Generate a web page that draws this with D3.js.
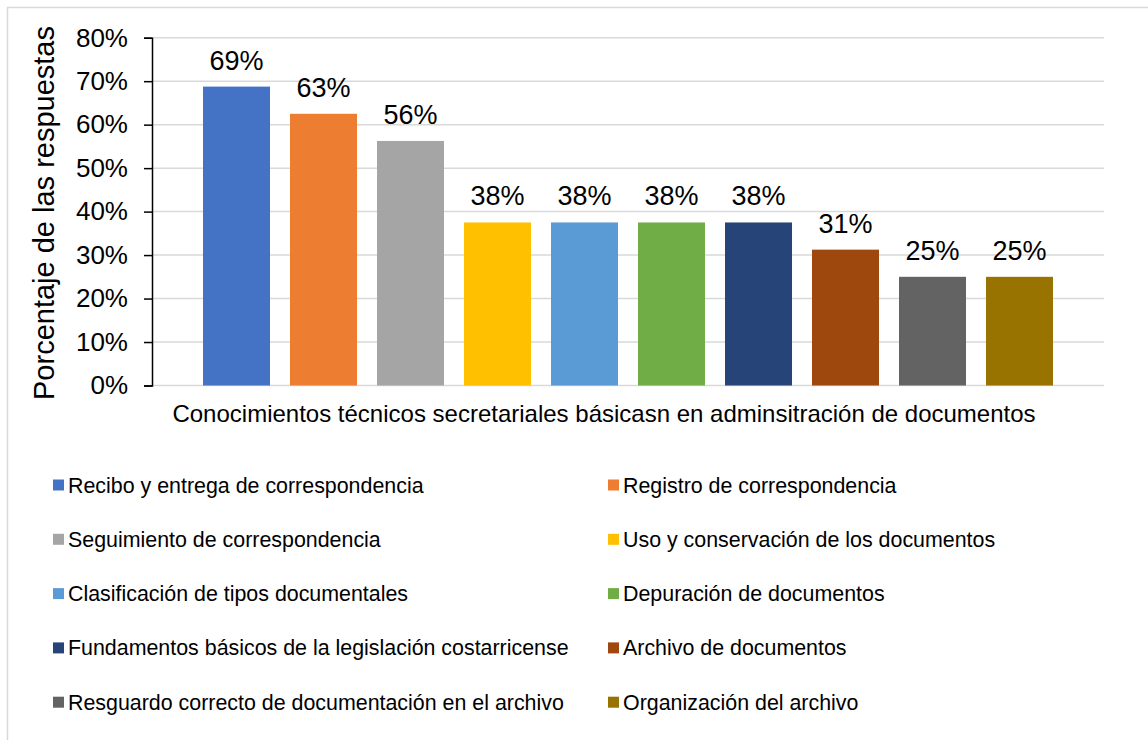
<!DOCTYPE html>
<html>
<head>
<meta charset="utf-8">
<script src="https://cdn.jsdelivr.net/npm/d3@7"></script>
<style>
  body { margin: 0; background: #fff; }
  svg text { font-family: "Liberation Sans", Arial, sans-serif; fill: #000; }
</style>
</head>
<body>
<svg id="svg"></svg>
<script>
// una sola categoria, diez series
var categories = ['Conocimientos técnicos secretariales básicasn en adminsitración de documentos'];

var series = [
  'Recibo y entrega de correspondencia',
  'Registro de correspondencia',
  'Seguimiento de correspondencia',
  'Uso y conservación de los documentos',
  'Clasificación de tipos documentales',
  'Depuración de documentos',
  'Fundamentos básicos de la legislación costarricense',
  'Archivo de documentos',
  'Resguardo correcto de documentación en el archivo',
  'Organización del archivo'
];

var values = [68.75, 62.5, 56.25, 37.5, 37.5, 37.5, 37.5, 31.25, 25, 25];

var colors = ['#4472C4', '#ED7D31', '#A5A5A5', '#FFC000', '#5B9BD5',
  '#70AD47', '#264478', '#9E480E', '#636363', '#997300'];

var yTicks = [0, 10, 20, 30, 40, 50, 60, 70, 80];

/* tamaño */
var W = 1148, H = 740;
var plot = { left: 152, right: 1104, top: 37.7, bottom: 385.5 };

var s = d3.select('#svg').attr('width', W).attr('height', H);

// borde del grafico
s.append('rect')
  .attr('x', 7.5).attr('y', 7.5)
  .attr('width', W + 10).attr('height', H + 10)
  .attr('fill', 'none')
  .attr('stroke', '#d9d9d9')
  .attr('stroke-width', 1.5);

var x0 = d3.scaleBand()
  .domain(categories)
  .range([plot.left, plot.right])
  .paddingInner(0)
  .paddingOuter(0.06);

var x1 = d3.scaleBand()
  .domain(series)
  .range([0, x0.bandwidth()])
  .paddingInner(0.23)
  .paddingOuter(0);

var y = d3.scaleLinear()
  .domain([0, 80])
  .range([plot.bottom, plot.top]);

var color = d3.scaleOrdinal().domain(series).range(colors);

// lineas de cuadricula
s.append('g')
  .selectAll('line')
  .data(yTicks)
  .enter()
  .append('line')
  .attr('x1', plot.left).attr('x2', plot.right)
  .attr('y1', function (d) { return y(d); })
  .attr('y2', function (d) { return y(d); })
  .attr('stroke', '#d9d9d9')
  .attr('stroke-width', 1.5);

// eje Y
var axisY = d3.axisLeft(y)
  .tickValues(yTicks)
  .tickSize(8)
  .tickPadding(16)
  .tickFormat(function (d) { return d + '%'; });

var gy = s.append('g')
  .attr('transform', 'translate(' + plot.left + ',0)')
  .call(axisY);
gy.select('.domain').attr('stroke', '#000').attr('stroke-width', 1.5);
gy.selectAll('.tick line').attr('stroke', '#000').attr('stroke-width', 1.5);
gy.selectAll('.tick text')
  .style('font-family', '"Liberation Sans", Arial, sans-serif')
  .style('font-size', '26px')
  .attr('fill', '#000');

// barras
var g = s.append('g')
  .attr('transform', 'translate(' + x0(categories[0]) + ',0)');

g.selectAll('rect.bar')
  .data(values)
  .enter()
  .append('rect')
  .attr('class', 'bar')
  .attr('x', function (d, i) { return x1(series[i]); })
  .attr('y', function (d) { return y(d); })
  .attr('width', x1.bandwidth())
  .attr('height', function (d) { return y(0) - y(d); })
  .attr('fill', function (d, i) { return color(series[i]); });

// etiquetas de datos
g.selectAll('text.lbl')
  .data(values)
  .enter()
  .append('text')
  .attr('class', 'lbl')
  .attr('x', function (d, i) { return x1(series[i]) + x1.bandwidth() / 2; })
  .attr('y', function (d) { return y(d) - 17; })
  .attr('text-anchor', 'middle')
  .style('font-size', '27px')
  .text(function (d) { return Math.round(d) + '%'; });

// eje X (solo etiqueta de categoria)
s.append('text')
  .attr('x', 604)
  .attr('y', 422)
  .attr('text-anchor', 'middle')
  .style('font-size', '24px')
  .text(categories[0]);

// titulo eje Y
s.append('text')
  .attr('transform', 'translate(54,213) rotate(-90)')
  .attr('text-anchor', 'middle')
  .style('font-size', '29px')
  .text('Porcentaje de las respuestas');

// leyenda
var legend = s.append('g');
var item = legend.selectAll('g.item')
  .data(series)
  .enter()
  .append('g')
  .attr('class', 'item')
  .attr('transform', function (d, i) {
    var col = i % 2, row = Math.floor(i / 2);
    return 'translate(' + (col === 0 ? 53 : 608) + ',' + (485 + row * 54.3) + ')';
  });

item.append('rect')
  .attr('x', 0).attr('y', -5.5)
  .attr('width', 11).attr('height', 11)
  .attr('fill', function (d) { return color(d); });

item.append('text')
  .attr('x', 15)
  .attr('y', 0)
  .attr('dy', '0.35em')
  .style('font-size', '21.4px')
  .text(function (d) { return d; });
</script>
</body>
</html>
